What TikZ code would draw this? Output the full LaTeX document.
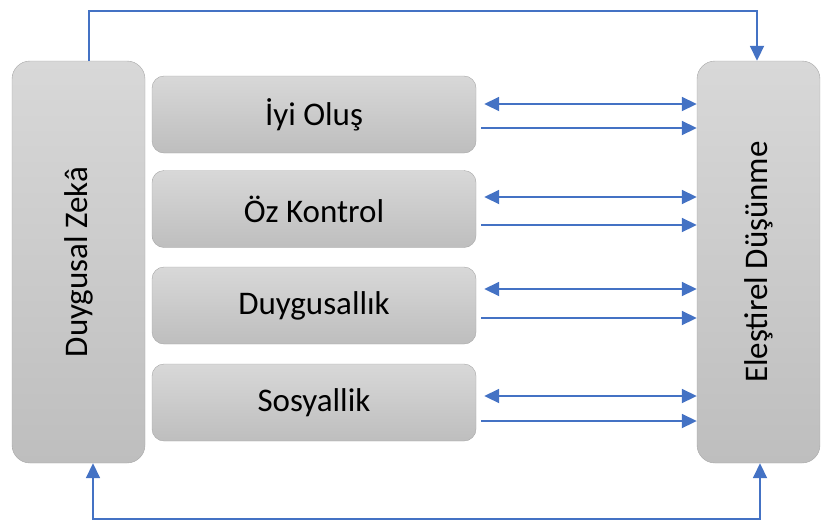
\documentclass[tikz,border=0pt]{standalone}
\usepackage{fontspec}
\setmainfont{Carlito}
\usetikzlibrary{arrows.meta, positioning, calc}
\definecolor{boxtop}{HTML}{D8D8D8}
\definecolor{boxbot}{HTML}{BEBEBE}
\definecolor{boxline}{HTML}{A6A6A6}
\definecolor{arrblue}{HTML}{4472C4}
\begin{document}
\begin{tikzpicture}[x=1pt,y=1pt,
    side/.style={draw=boxline,rounded corners=18pt,top color=boxtop,bottom color=boxbot,minimum height=402pt,font=\fontsize{33}{40}\selectfont},
    elem/.style={draw=boxline,rounded corners=12pt,top color=boxtop,bottom color=boxbot,minimum width=324pt,minimum height=77pt,font=\fontsize{33}{40}\selectfont},
    arr/.style={draw=arrblue,line width=1.8pt,-{Triangle[length=15pt,width=14pt]}},
    dbl/.style={arr,{Triangle[length=15pt,width=14pt]}-{Triangle[length=15pt,width=14pt]}}]
    \useasboundingbox (0,0) rectangle (821,-523);
    \node (dz) [side,minimum width=133pt] at (78.5,-262) {\rotatebox{90}{Duygusal Zekâ}};
    \node (ed) [side,minimum width=123pt] at (758.5,-262) {\rotatebox{90}{Eleştirel Düşünme}};
    \node (iyi) [elem] at (314,-114.5) {İyi Oluş};
    \node (oz) [elem] at (314,-209) {Öz Kontrol};
    \node (duy) [elem] at (314,-305.5) {Duygusallık};
    \node (sos) [elem] at (314,-402.5) {Sosyallik};
    \foreach \n/\a/\b in {iyi/10.5/-13.5, oz/12/-16, duy/16.5/-12.5, sos/6.5/-18.5} {
        \draw[dbl] ($(\n.east)+(8,\a)$) -- ($(\n.east -| ed.west)+(0,\a)$);
        \draw[arr] ($(\n.east)+(5,\b)$) -- ($(\n.east -| ed.west)+(0,\b)$);
    }
    \draw[arr] ([xshift=10.5pt]dz.north) -- ++(0,50) -| ([xshift=-1.5pt]ed.north);
    \draw[dbl] ([xshift=14.5pt]dz.south) -- ++(0,-56) -| ([xshift=1.5pt]ed.south);
\end{tikzpicture}
\end{document}
